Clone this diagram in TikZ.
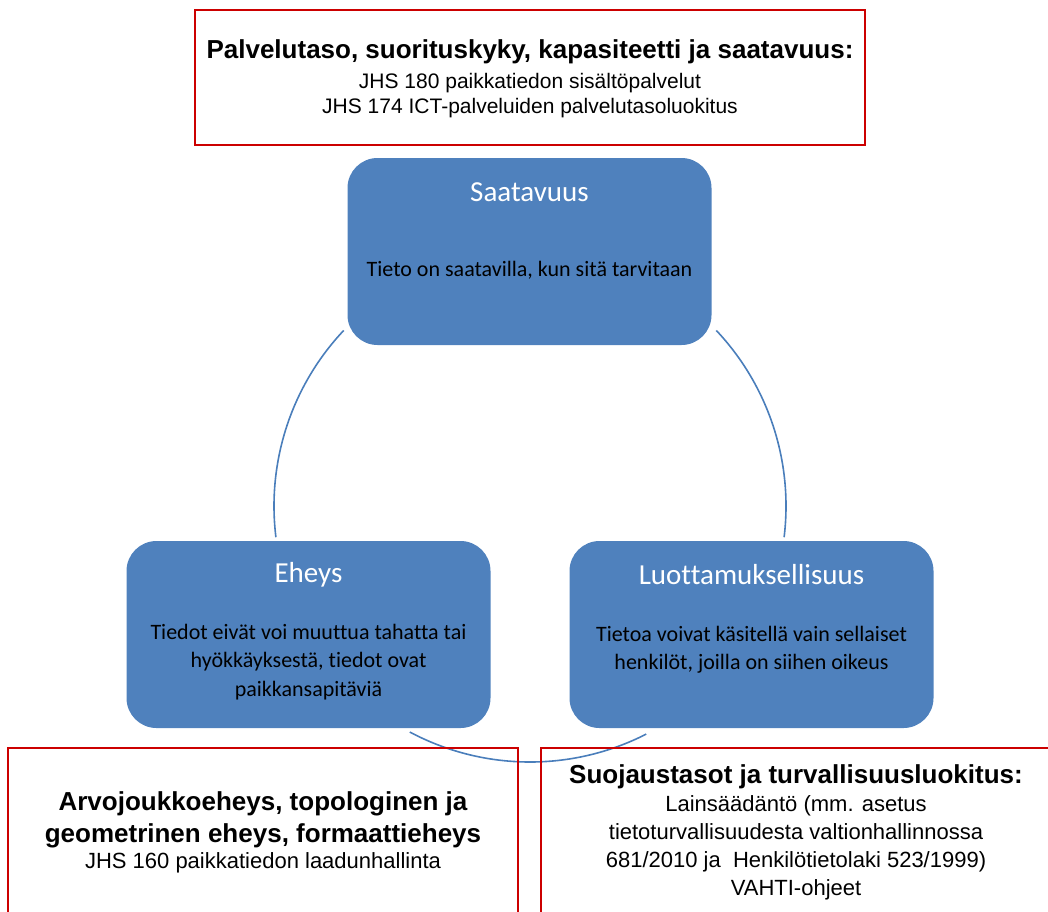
\documentclass[tikz,border=0pt]{standalone}
\usepackage{fontspec}
\setmainfont{Liberation Sans}
\newfontfamily\calibri[Ligatures=NoCommon]{Carlito}
\usetikzlibrary{positioning, calc}
\definecolor{cia_blue}{HTML}{4F81BD}
\definecolor{cia_line}{HTML}{4A7EBB}
\definecolor{cia_red}{HTML}{CC0000}
\newcommand\stdheadfont{\bfseries\fontsize{26}{30}\selectfont}
\tikzset{
  ciabox/.style={rectangle,rounded corners=30pt,fill=cia_blue,draw=none,minimum width=364pt,minimum height=187pt,inner sep=0pt},
  ciatitle/.style={text=white,font=\calibri\fontsize{29}{32}\selectfont},
  ciatext/.style={text=black,align=center,font=\calibri\fontsize{22}{28.5}\selectfont},
  stdbox/.style={rectangle,draw=cia_red,line width=2pt,inner sep=0pt},
  stdtext/.style={align=center,font=\fontsize{22}{26}\selectfont},
  cyclearc/.style={draw=cia_line,line width=1.6pt},
}

\begin{document}
\begin{tikzpicture}[x=1pt,y=-1pt]
	\useasboundingbox (0,0) rectangle (1048,911);
	\clip (0,0) rectangle (1048,911);
	% cycle behind the three boxes
	\coordinate (cyc) at (530,506);
	\draw[cyclearc] ([shift={(136.7:256pt)}]cyc) arc[start angle=136.7,end angle=187,radius=256pt];
	\draw[cyclearc] ([shift={(242:256pt)}]cyc) arc[start angle=242,end angle=297,radius=256pt];
	\draw[cyclearc] ([shift={(-7:256pt)}]cyc) arc[start angle=-7,end angle=43.3,radius=256pt];
	
	\node[ciabox] (saat) at (529.5,251.5) {};
	\node[ciatitle] at ([yshift=-34pt]saat.north) {Saatavuus};
	\node[ciatext] at ([yshift=-112pt]saat.north) {Tieto on saatavilla, kun sitä tarvitaan};
	
	\node[ciabox] (eheys) at (308.5,634.5) {};
	\node[ciatitle] at ([yshift=-34pt]eheys.north) {Eheys};
	\node[ciatext] at ([yshift=-121pt]eheys.north) {Tiedot eivät voi muuttua tahatta tai\\hyökkäyksestä, tiedot ovat\\paikkansapitäviä};
	
	\node[ciabox] (luott) at (751.5,634.5) {};
	\node[ciatitle] at ([yshift=-34pt]luott.north) {Luottamuksellisuus};
	\node[ciatext] at ([yshift=-109pt]luott.north) {Tietoa voivat käsitellä vain sellaiset\\henkilöt, joilla on siihen oikeus};
	
	% standards
	\node[stdbox,minimum width=670pt,minimum height=135pt] (palvelu) at (530,77.5) {};
	\node[stdtext,font=\fontsize{21}{25}\selectfont] at ([yshift=-1pt]palvelu.center) {{\stdheadfont Palvelutaso, suorituskyky, kapasiteetti ja saatavuus:}\\[5pt]JHS 180 paikkatiedon sisältöpalvelut\\JHS 174 ICT-palveluiden palvelutasoluokitus};
	\node[stdbox,minimum width=510pt,minimum height=182pt] (laatu) at (263,839) {};
	\node[stdtext] at (263,832) {{\stdheadfont Arvojoukkoeheys, topologinen ja}\\[6pt]{\stdheadfont geometrinen eheys, formaattieheys}\\JHS 160 paikkatiedon laadunhallinta};
	\node[stdbox,minimum width=524pt,minimum height=182pt] (suoja) at (803,839) {};
	\node[stdtext,font=\fontsize{22}{28}\selectfont] at (796,832) {{\stdheadfont Suojaustasot ja turvallisuusluokitus:}\\Lainsäädäntö (mm. asetus\\tietoturvallisuudesta valtionhallinnossa\\681/2010 ja\ \ Henkilötietolaki 523/1999)\\VAHTI-ohjeet};
\end{tikzpicture}
\end{document}
